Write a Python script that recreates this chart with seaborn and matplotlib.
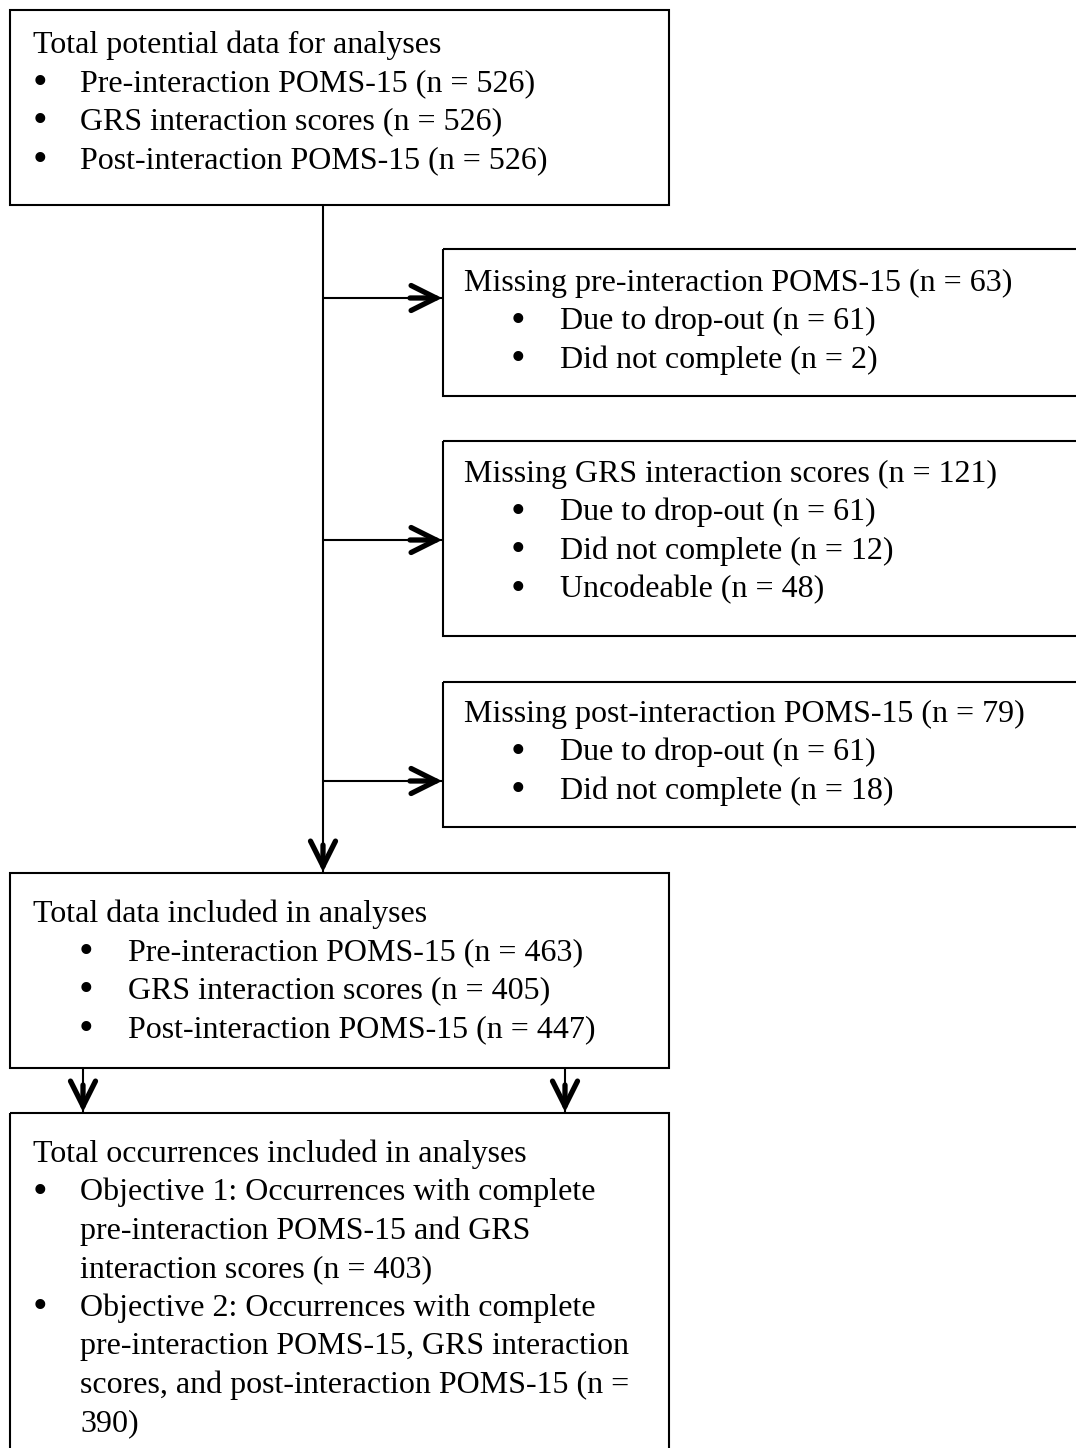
import matplotlib
matplotlib.use('Agg')
import matplotlib.pyplot as plt
import seaborn as sns
from matplotlib.patches import Rectangle

# flowchart content
total_title = 'Total potential data for analyses'
total_items = ['Pre-interaction POMS-15 (n = 526)',
               'GRS interaction scores (n = 526)',
               'Post-interaction POMS-15 (n = 526)']

miss_pre_title = 'Missing pre-interaction POMS-15 (n = 63)'
miss_pre_items = ['Due to drop-out (n = 61)', 'Did not complete (n = 2)']

miss_grs_title = 'Missing GRS interaction scores (n = 121)'
miss_grs_items = ['Due to drop-out (n = 61)', 'Did not complete (n = 12)',
                  'Uncodeable (n = 48)']

miss_post_title = 'Missing post-interaction POMS-15 (n = 79)'
miss_post_items = ['Due to drop-out (n = 61)', 'Did not complete (n = 18)']

incl_title = 'Total data included in analyses'
incl_items = ['Pre-interaction POMS-15 (n = 463)',
              'GRS interaction scores (n = 405)',
              'Post-interaction POMS-15 (n = 447)']

occ_title = 'Total occurrences included in analyses'
occ_items = [['Objective 1: Occurrences with complete',
              'pre-interaction POMS-15 and GRS',
              'interaction scores (n = 403)'],
             ['Objective 2: Occurrences with complete',
              'pre-interaction POMS-15, GRS interaction',
              'scores, and post-interaction POMS-15 (n =',
              '390)']]

sns.set_style('white')
plt.rcParams['font.family'] = ['Liberation Serif', 'DejaVu Serif']
plt.rcParams['text.color'] = 'black'

W, H = 1076, 1448
fig = plt.figure(figsize=(W / 100, H / 100), dpi=100)
ax = fig.add_axes([0, 0, 1, 1])
ax.set_xlim(0, W)
ax.set_ylim(H, 0)
ax.axis('off')

FS = 23
LH = 38.5
DY = 2


def box(x0, y0, x1, y1):
    ax.add_patch(Rectangle((x0, y0), x1 - x0, y1 - y0, fill=False,
                           edgecolor='black', lw=1.5, zorder=2))


def write_block(title, items, tx, ty, bx, ix):
    ax.text(tx, ty + DY, title, fontsize=FS, va='center', ha='left',
            color='black')
    y = ty
    for it in items:
        lines = it if isinstance(it, list) else [it]
        y += LH
        ax.text(bx, y + DY, '\u2022', fontsize=FS * 1.3, va='center',
                ha='left', color='black')
        for k, ln in enumerate(lines):
            if k:
                y += LH
            ax.text(ix, y + DY, ln, fontsize=FS, va='center', ha='left',
                    color='black')


def arrow_head(x0, y0, x1, y1):
    ax.annotate('', xy=(x1, y1), xytext=(x0, y0),
                arrowprops=dict(arrowstyle='->,head_length=0.9,head_width=0.45',
                                lw=3.8, color='black', mutation_scale=20,
                                shrinkA=0, shrinkB=0, capstyle='round',
                                joinstyle='miter'))


# boxes
box(10, 10, 669, 205)
box(443, 249, 1095, 396)
box(443, 441, 1095, 636)
box(443, 682, 1095, 827)
box(10, 873, 669, 1068)
box(10, 1113, 669, 1470)

# text
write_block(total_title, total_items, 33, 43, 33, 80)
write_block(miss_pre_title, miss_pre_items, 464, 281, 511, 560)
write_block(miss_grs_title, miss_grs_items, 464, 472, 511, 560)
write_block(miss_post_title, miss_post_items, 464, 712, 511, 560)
write_block(incl_title, incl_items, 33, 912, 79, 128)
write_block(occ_title, occ_items, 33, 1152, 33, 80)

# connectors
ax.plot([323, 323], [205, 872], color='black', lw=1.5)
arrow_head(323, 845, 323, 872)
for yy in [298, 540, 781]:
    ax.plot([323, 442], [yy, yy], color='black', lw=1.5)
    arrow_head(410, yy, 442, yy)
for xx in [83, 565]:
    ax.plot([xx, xx], [1068, 1112], color='black', lw=1.5)
    arrow_head(xx, 1085, xx, 1112)

fig.savefig('out.png', dpi=100, facecolor='white')
